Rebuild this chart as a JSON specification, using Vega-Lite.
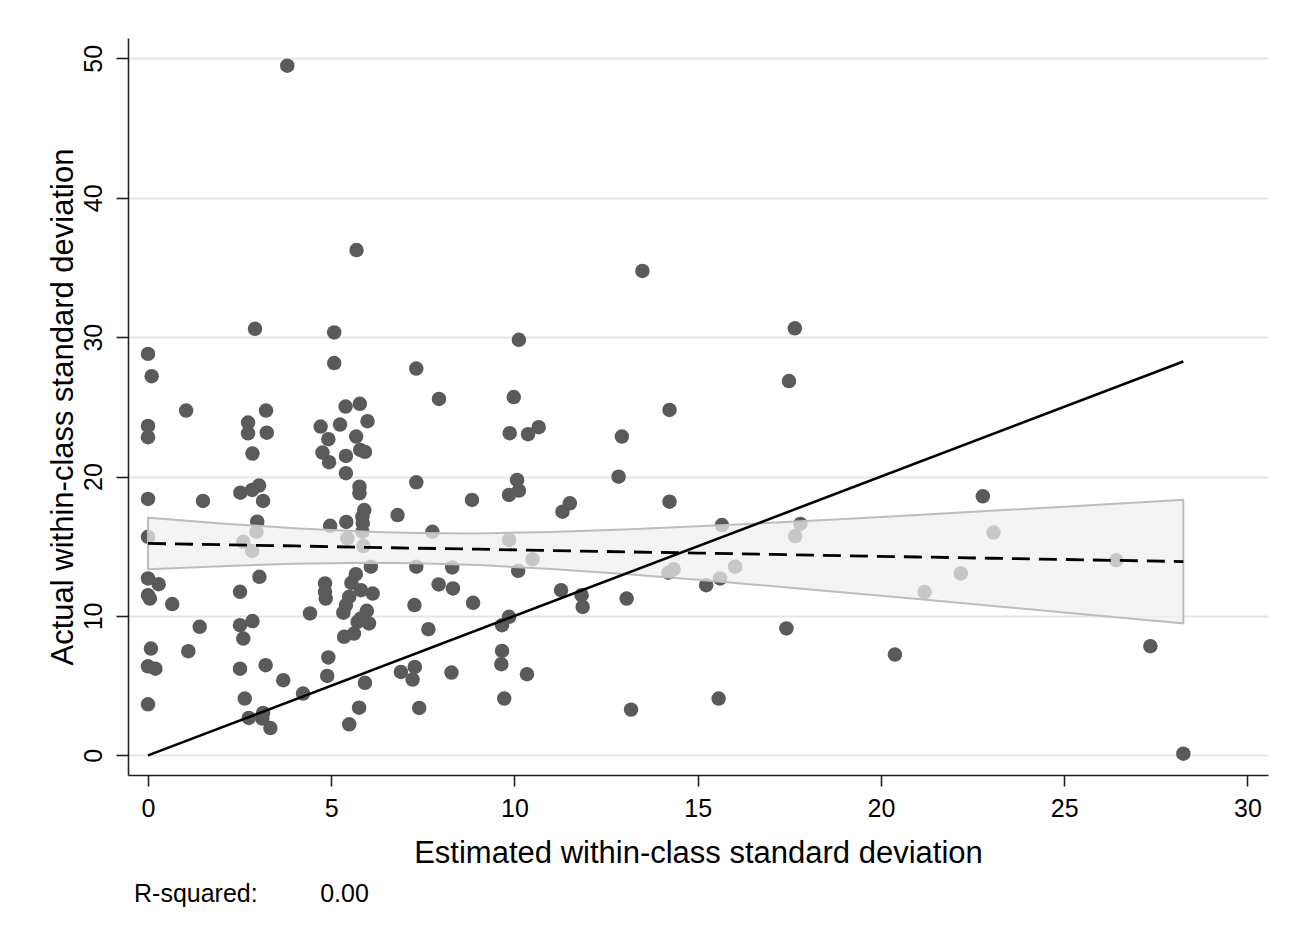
{
  "$schema": "https://vega.github.io/schema/vega-lite/v6.json",
  "width": 1140,
  "height": 737,
  "autosize": {"type": "none"},
  "padding": {"left": 128, "top": 38, "right": 31, "bottom": 167},
  "background": "white",
  "config": {"view": {"stroke": null}, "font": "Liberation Sans"},
  "title": {
    "text": "R-squared:\u00a0\u00a0\u00a0\u00a0\u00a0\u00a0\u00a0\u00a0\u00a00.00",
    "orient": "bottom",
    "anchor": "start",
    "frame": "group",
    "fontSize": 25,
    "fontWeight": "normal",
    "color": "black",
    "font": "Liberation Sans",
    "offset": 14,
    "dx": 6
  },
  "datasets": {
    "pts": [
      {"x": 3.80, "y": 49.47}, {"x": 5.69, "y": 36.25}, {"x": 13.49, "y": 34.75}, {"x": 17.65, "y": 30.63},
      {"x": 2.92, "y": 30.6}, {"x": 5.08, "y": 30.34}, {"x": 0.0, "y": 28.8}, {"x": 0.10, "y": 27.2},
      {"x": 5.08, "y": 28.14}, {"x": 7.32, "y": 27.75}, {"x": 1.04, "y": 24.73}, {"x": 3.22, "y": 24.73},
      {"x": 0.0, "y": 23.63}, {"x": 0.0, "y": 22.82}, {"x": 2.73, "y": 23.87}, {"x": 2.73, "y": 23.1},
      {"x": 3.24, "y": 23.15}, {"x": 2.85, "y": 21.65}, {"x": 5.39, "y": 25.02}, {"x": 5.78, "y": 25.22},
      {"x": 4.71, "y": 23.59}, {"x": 5.24, "y": 23.73}, {"x": 5.99, "y": 23.97}, {"x": 4.92, "y": 22.68},
      {"x": 5.68, "y": 22.87}, {"x": 4.76, "y": 21.72}, {"x": 4.94, "y": 21.03}, {"x": 5.40, "y": 21.48},
      {"x": 5.79, "y": 21.91}, {"x": 5.92, "y": 21.77}, {"x": 5.40, "y": 20.24}, {"x": 7.32, "y": 19.59},
      {"x": 0.0, "y": 18.39}, {"x": 1.50, "y": 18.25}, {"x": 2.52, "y": 18.84}, {"x": 3.03, "y": 19.35},
      {"x": 2.84, "y": 19.04}, {"x": 3.14, "y": 18.25}, {"x": 5.77, "y": 19.27}, {"x": 5.77, "y": 18.8},
      {"x": 5.90, "y": 17.6}, {"x": 5.85, "y": 17.12}, {"x": 6.81, "y": 17.24}, {"x": 2.98, "y": 16.76},
      {"x": 4.97, "y": 16.47}, {"x": 5.41, "y": 16.74}, {"x": 5.86, "y": 16.65},
      {"x": 0.0, "y": 15.68}, {"x": 2.96, "y": 16.04}, {"x": 2.60, "y": 15.32}, {"x": 2.84, "y": 14.66},
      {"x": 5.44, "y": 15.56}, {"x": 5.85, "y": 16.04}, {"x": 5.88, "y": 15.01}, {"x": 7.32, "y": 13.53},
      {"x": 7.76, "y": 16.04}, {"x": 0.0, "y": 12.69}, {"x": 0.29, "y": 12.28}, {"x": 0.0, "y": 11.49},
      {"x": 0.05, "y": 11.25}, {"x": 0.66, "y": 10.85}, {"x": 3.04, "y": 12.81}, {"x": 2.51, "y": 11.73},
      {"x": 4.83, "y": 12.33}, {"x": 4.83, "y": 11.73}, {"x": 4.85, "y": 11.25}, {"x": 5.67, "y": 13.0},
      {"x": 5.55, "y": 12.38}, {"x": 5.49, "y": 11.37}, {"x": 5.40, "y": 10.78}, {"x": 5.33, "y": 10.23},
      {"x": 5.81, "y": 11.85}, {"x": 6.13, "y": 11.61}, {"x": 6.08, "y": 13.53}, {"x": 5.97, "y": 10.37},
      {"x": 5.81, "y": 9.82}, {"x": 6.03, "y": 9.46}, {"x": 5.72, "y": 9.58}, {"x": 5.62, "y": 8.74},
      {"x": 5.35, "y": 8.5}, {"x": 4.42, "y": 10.18}, {"x": 7.27, "y": 10.78}, {"x": 7.65, "y": 9.05},
      {"x": 1.41, "y": 9.22}, {"x": 2.51, "y": 9.34}, {"x": 2.85, "y": 9.63}, {"x": 2.60, "y": 8.38},
      {"x": 0.08, "y": 7.66}, {"x": 1.10, "y": 7.47}, {"x": 0.0, "y": 6.39}, {"x": 0.2, "y": 6.22},
      {"x": 2.51, "y": 6.22}, {"x": 3.21, "y": 6.47}, {"x": 3.69, "y": 5.39}, {"x": 4.92, "y": 7.02},
      {"x": 4.89, "y": 5.70}, {"x": 5.92, "y": 5.2}, {"x": 4.23, "y": 4.43}, {"x": 2.64, "y": 4.07},
      {"x": 0.0, "y": 3.66}, {"x": 2.75, "y": 2.68}, {"x": 3.14, "y": 3.04}, {"x": 3.12, "y": 2.64},
      {"x": 3.34, "y": 1.96}, {"x": 5.76, "y": 3.42}, {"x": 5.49, "y": 2.23}, {"x": 6.90, "y": 5.98},
      {"x": 7.28, "y": 6.34}, {"x": 7.22, "y": 5.44}, {"x": 7.40, "y": 3.40},
      {"x": 10.12, "y": 29.81}, {"x": 7.94, "y": 25.57}, {"x": 9.98, "y": 25.7}, {"x": 9.87, "y": 23.11},
      {"x": 10.37, "y": 23.04}, {"x": 10.66, "y": 23.54}, {"x": 10.07, "y": 19.76}, {"x": 10.12, "y": 18.99},
      {"x": 9.85, "y": 18.68}, {"x": 8.84, "y": 18.32}, {"x": 11.51, "y": 18.08}, {"x": 11.31, "y": 17.48},
      {"x": 9.85, "y": 15.45}, {"x": 10.49, "y": 14.06}, {"x": 10.10, "y": 13.24}, {"x": 8.30, "y": 13.48},
      {"x": 7.93, "y": 12.26}, {"x": 8.32, "y": 11.97}, {"x": 8.87, "y": 10.94}, {"x": 11.27, "y": 11.85},
      {"x": 11.83, "y": 11.49}, {"x": 11.86, "y": 10.65}, {"x": 9.85, "y": 9.94}, {"x": 9.66, "y": 9.34},
      {"x": 9.66, "y": 7.49}, {"x": 9.64, "y": 6.54}, {"x": 10.34, "y": 5.82}, {"x": 9.72, "y": 4.07},
      {"x": 8.28, "y": 5.94},
      {"x": 17.49, "y": 26.85}, {"x": 14.23, "y": 24.78}, {"x": 12.93, "y": 22.87}, {"x": 12.84, "y": 19.99},
      {"x": 14.23, "y": 18.2}, {"x": 15.66, "y": 16.52}, {"x": 17.8, "y": 16.6}, {"x": 17.66, "y": 15.73},
      {"x": 14.34, "y": 13.35}, {"x": 14.2, "y": 13.1}, {"x": 16.02, "y": 13.53}, {"x": 15.61, "y": 12.69},
      {"x": 15.23, "y": 12.21}, {"x": 13.06, "y": 11.25}, {"x": 17.42, "y": 9.1}, {"x": 15.57, "y": 4.07},
      {"x": 13.18, "y": 3.28},
      {"x": 22.78, "y": 18.58}, {"x": 23.07, "y": 15.98}, {"x": 22.18, "y": 13.05}, {"x": 21.19, "y": 11.71},
      {"x": 26.42, "y": 14.0}, {"x": 20.38, "y": 7.23}, {"x": 27.35, "y": 7.83}, {"x": 28.25, "y": 0.12}
    ],
    "band": [
      {"x": 0, "lo": 13.35, "hi": 17.05, "fit": 15.2},
      {"x": 2, "lo": 13.57, "hi": 16.64, "fit": 15.11},
      {"x": 4, "lo": 13.74, "hi": 16.29, "fit": 15.02},
      {"x": 6, "lo": 13.81, "hi": 16.04, "fit": 14.92},
      {"x": 7.3, "lo": 13.78, "hi": 15.95, "fit": 14.86},
      {"x": 9, "lo": 13.65, "hi": 15.92, "fit": 14.79},
      {"x": 11, "lo": 13.37, "hi": 16.02, "fit": 14.69},
      {"x": 13, "lo": 13.01, "hi": 16.2, "fit": 14.6},
      {"x": 15, "lo": 12.59, "hi": 16.43, "fit": 14.51},
      {"x": 17, "lo": 12.15, "hi": 16.68, "fit": 14.42},
      {"x": 19, "lo": 11.69, "hi": 16.96, "fit": 14.32},
      {"x": 21, "lo": 11.22, "hi": 17.25, "fit": 14.23},
      {"x": 23, "lo": 10.74, "hi": 17.54, "fit": 14.14},
      {"x": 25, "lo": 10.25, "hi": 17.84, "fit": 14.05},
      {"x": 27, "lo": 9.77, "hi": 18.14, "fit": 13.96},
      {"x": 28.25, "lo": 9.47, "hi": 18.33, "fit": 13.9}
    ],
    "diag": [
      {"x": 0, "y": 0},
      {"x": 28.25, "y": 28.25}
    ]
  },
  "encoding": {
    "x": {
      "field": "x",
      "type": "quantitative",
      "scale": {"domain": [-0.546, 30.56], "nice": false, "zero": false},
      "axis": {
        "values": [0, 5, 10, 15, 20, 25, 30],
        "grid": false,
        "domainColor": "#222222",
        "domainWidth": 1.6,
        "tickColor": "#222222",
        "tickWidth": 1.6,
        "tickSize": 11,
        "labelFontSize": 25,
        "labelColor": "black",
        "labelPadding": 10,
        "title": "Estimated within-class standard deviation",
        "titleFontSize": 31,
        "titleFontWeight": "normal",
        "titleColor": "black",
        "titlePadding": 17
      }
    }
  },
  "layer": [
    {
      "data": {"name": "pts"},
      "mark": {"type": "circle", "size": 210, "color": "#5a5a5a", "opacity": 1},
      "encoding": {
        "y": {
          "field": "y",
          "type": "quantitative",
          "scale": {"domain": [-1.41, 51.46], "nice": false, "zero": false},
          "axis": {
            "values": [0, 10, 20, 30, 40, 50],
            "grid": true,
            "gridColor": "#e6e6e6",
            "gridWidth": 2,
            "domainColor": "#222222",
            "domainWidth": 1.6,
            "tickColor": "#222222",
            "tickWidth": 1.6,
            "tickSize": 12,
            "labelFontSize": 25,
            "labelColor": "black",
            "labelAngle": -90,
            "labelAlign": "center",
            "labelBaseline": "bottom",
            "labelPadding": 10,
            "title": "Actual within-class standard deviation",
            "titleFontSize": 31,
            "titleFontWeight": "normal",
            "titleColor": "black",
            "titlePadding": 2
          }
        }
      }
    },
    {
      "data": {"name": "band"},
      "mark": {"type": "area", "color": "#f0f0f0", "fillOpacity": 0.73, "stroke": "#bdbdbd", "strokeWidth": 2},
      "encoding": {
        "y": {"field": "lo", "type": "quantitative"},
        "y2": {"field": "hi"}
      }
    },
    {
      "data": {"name": "band"},
      "mark": {"type": "line", "color": "black", "strokeWidth": 2.8, "strokeDash": [18, 9]},
      "encoding": {
        "y": {"field": "fit", "type": "quantitative"}
      }
    },
    {
      "data": {"name": "diag"},
      "mark": {"type": "line", "color": "black", "strokeWidth": 2.6},
      "encoding": {
        "y": {"field": "y", "type": "quantitative"}
      }
    }
  ]
}
